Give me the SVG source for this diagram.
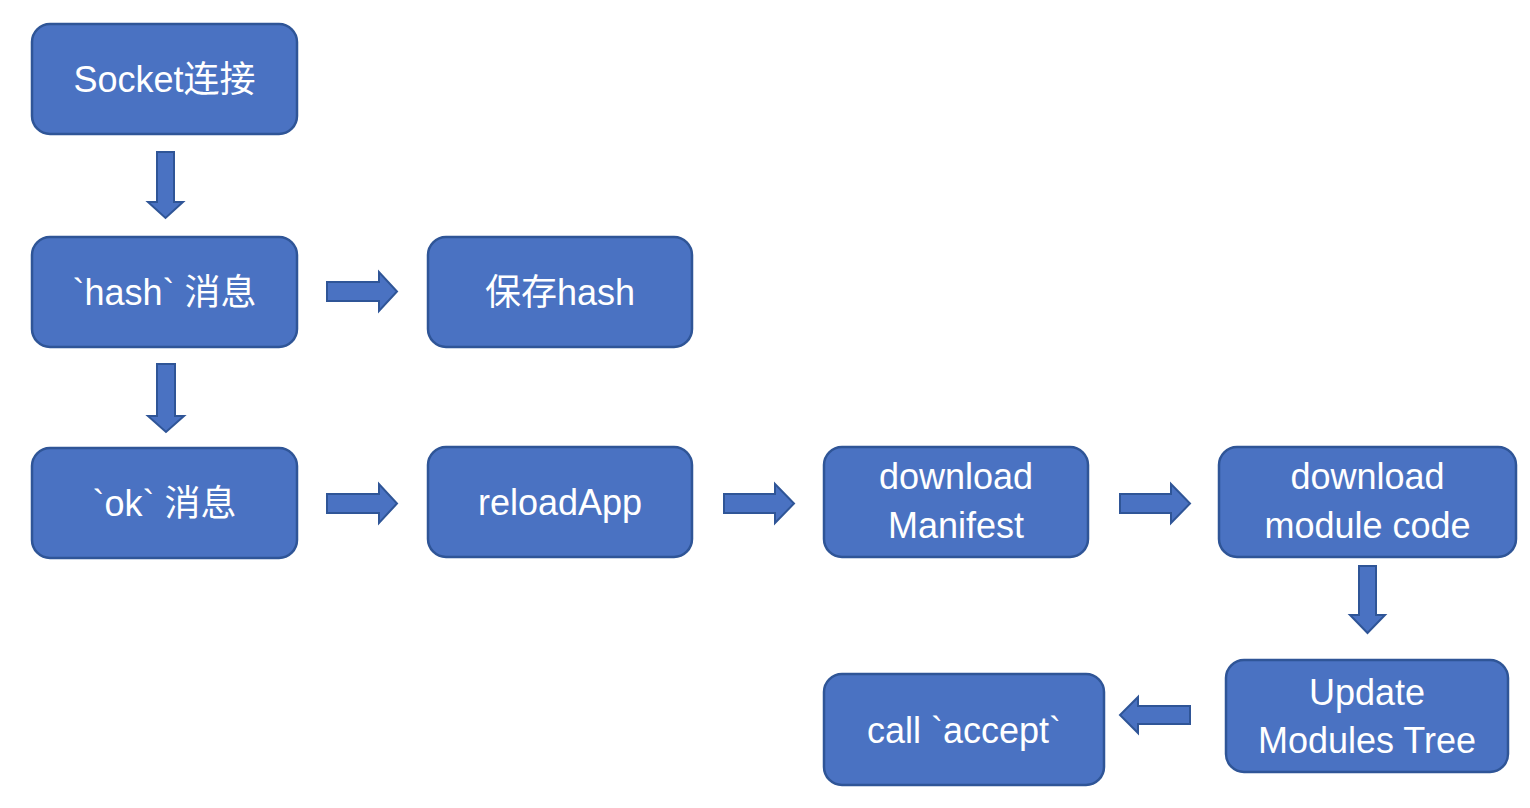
<svg xmlns="http://www.w3.org/2000/svg" width="1530" height="808" viewBox="0 0 1530 808">
<style>
.box{fill:#4A72C2;stroke:#2F5597;stroke-width:2.5}
.arr{fill:#4A72C2;stroke:#2F5597;stroke-width:2;stroke-linejoin:miter}
.t{font-family:"Liberation Sans","Noto Sans CJK SC",sans-serif;font-size:36px;fill:#ffffff;text-anchor:middle}
</style>
<rect width="1530" height="808" fill="#ffffff"/>
<g id="n-socket"><rect class="box" x="32" y="24" width="265" height="110" rx="18"/><text class="t" x="164.5" y="92">Socket连接</text></g>
<g id="n-hash"><rect class="box" x="32" y="237" width="265" height="110" rx="18"/><text class="t" x="164.5" y="305">`hash` 消息</text></g>
<g id="n-save"><rect class="box" x="428" y="237" width="264" height="110" rx="18"/><text class="t" x="560" y="305">保存hash</text></g>
<g id="n-ok"><rect class="box" x="32" y="448" width="265" height="110" rx="18"/><text class="t" x="164.5" y="516">`ok` 消息</text></g>
<g id="n-reload"><rect class="box" x="428" y="447" width="264" height="110" rx="18"/><text class="t" x="560" y="515">reloadApp</text></g>
<g id="n-manifest"><rect class="box" x="824" y="447" width="264" height="110" rx="18"/><text class="t" x="956" y="489">download</text><text class="t" x="956" y="538">Manifest</text></g>
<g id="n-module"><rect class="box" x="1219" y="447" width="297" height="110" rx="18"/><text class="t" x="1367.5" y="489">download</text><text class="t" x="1367.5" y="538">module code</text></g>
<g id="n-update"><rect class="box" x="1226" y="660" width="282" height="112" rx="18"/><text class="t" x="1367" y="705">Update</text><text class="t" x="1367" y="753">Modules Tree</text></g>
<g id="n-accept"><rect class="box" x="824" y="674" width="280" height="111" rx="18"/><text class="t" x="964" y="743">call `accept`</text></g>
<g id="connectors">
<polygon class="arr" points="157,152 174,152 174,202 183,202 165.5,218 148,202 157,202"/>
<polygon class="arr" points="157,364 175,364 175,416 184,416 166,432 148,416 157,416"/>
<polygon class="arr" points="327,282 379,282 379,272 397,291.5 379,311 379,301 327,301"/>
<polygon class="arr" points="327,494 379,494 379,484 397,503.5 379,523 379,513 327,513"/>
<polygon class="arr" points="724,494 775,494 775,484 794,503.5 775,523 775,513 724,513"/>
<polygon class="arr" points="1120,494 1171,494 1171,484 1190,503.5 1171,523 1171,513 1120,513"/>
<polygon class="arr" points="1359,566 1376,566 1376,615 1385,615 1367.5,633 1350,615 1359,615"/>
<polygon class="arr" points="1190,706 1138,706 1138,697 1120,715 1138,733 1138,724 1190,724"/>
</g>
</svg>
